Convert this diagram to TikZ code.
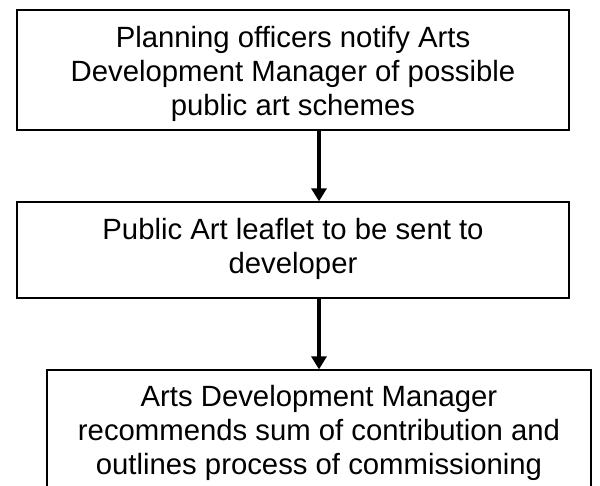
\documentclass[tikz,border=0pt]{standalone}
\usepackage{fontspec}
\setmainfont{Liberation Sans}
\usetikzlibrary{arrows.meta}
\begin{document}
\begin{tikzpicture}[x=1pt,y=1pt,
  stepbox/.style={draw=black,line width=1.3pt,fill=none,inner sep=0pt},
  txt/.style={align=center,inner sep=0pt,font=\fontsize{29.3}{34}\selectfont},
  arr/.style={draw=black,line width=3.2pt,-{Triangle[width=15pt,length=13pt]}}]
\useasboundingbox (0,0) rectangle (600,-486);
\clip (0,0) rectangle (600,-486);
\fill[white] (0,0) rectangle (600,-486);
% boxes
\node[stepbox,minimum width=552pt,minimum height=120pt] (b1) at (293,-70) {};
\node[stepbox,minimum width=552pt,minimum height=96pt] (b2) at (293,-250) {};
\node[stepbox,minimum width=544pt,minimum height=130pt] (b3) at (319,-435) {};
% texts
\node[txt] (t1) at (293,-73.5) {Planning officers notify Arts\\Development Manager of possible\\public art schemes};
\node[txt] (t2) at (293,-249.3) {Public Art leaflet to be sent to\\developer};
\node[txt] (t3) at (319,-433.3) {Arts Development Manager\\recommends sum of contribution and\\outlines process of commissioning};
% arrows
\draw[arr] (b1.south -| b3.center) -- (b2.north -| b3.center);
\draw[arr] (b2.south -| b3.center) -- (b3.north -| b3.center);
\end{tikzpicture}
\end{document}
